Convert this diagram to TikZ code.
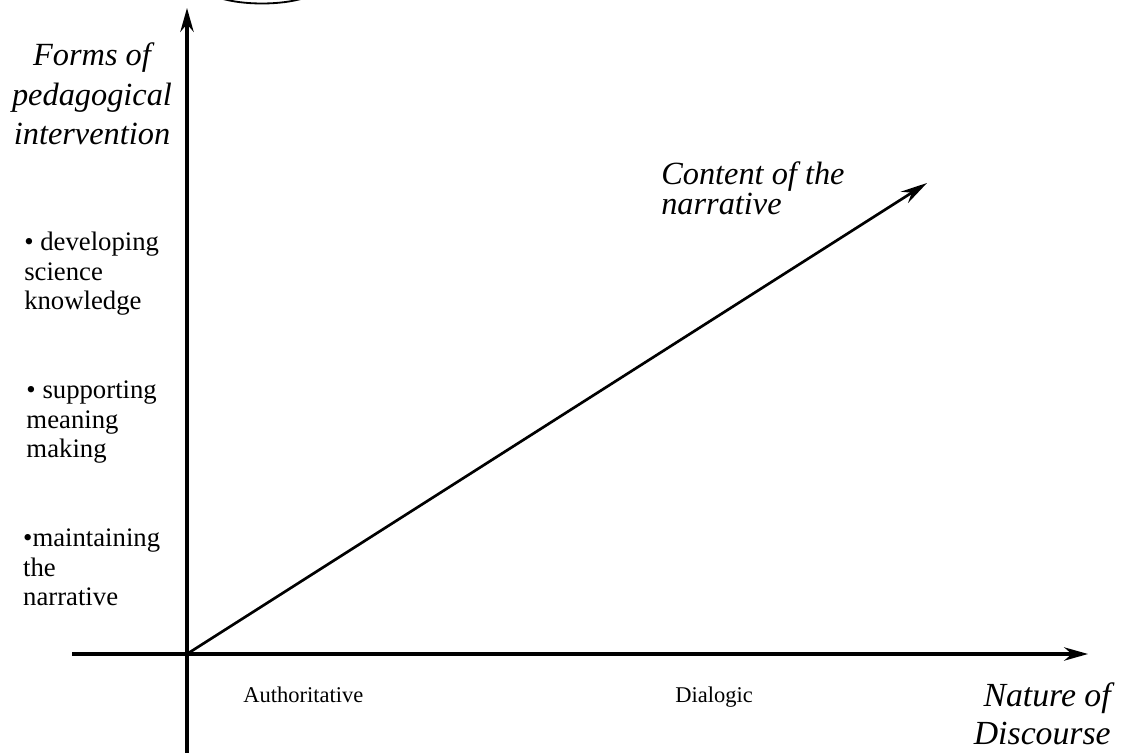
\documentclass[tikz,border=0pt]{standalone}
\usepackage{fontspec}
\setmainfont{Liberation Serif}
\usetikzlibrary{arrows.meta, positioning}

\begin{document}
\begin{tikzpicture}[
    x=0.025cm, y=-0.025cm,
    node distance=1.62cm,
    axis/.style={line width=2.2pt, -{Stealth[length=17pt, width=9.5pt]}},
    trend/.style={line width=1.9pt, -{Stealth[length=19pt, width=9.5pt]}},
    title/.style={font=\fontsize{23}{28.4}\selectfont\itshape, inner sep=0pt},
    item/.style={font=\fontsize{19}{21}\selectfont, align=left, anchor=north west, inner sep=0pt},
    pole/.style={font=\fontsize{16}{21}\selectfont, anchor=base west, inner sep=0pt}
]
\useasboundingbox (0,0) rectangle (1122,753);
% piece of the shape above
\begin{scope}
\clip (0,0) rectangle (1122,753);
\draw[line width=1.3pt] (262,-14) ellipse [x radius=58, y radius=17.5];
\end{scope}
% axes
\coordinate (o) at (187,654);
\coordinate (ytop) at (187,8);
\coordinate (ybot) at (187,753);
\coordinate (xleft) at (72,654);
\coordinate (xright) at (1088,654);
\coordinate (dtip) at (927,183);
\draw[axis] (ybot) -- (ytop);
\draw[axis] (xleft) -- (xright);
\draw[trend] (o) -- (dtip);
% labels
\node[title, align=center, anchor=base] (forms) at (92,145) {Forms of\\pedagogical\\intervention};
\node[title, align=left, anchor=base west, font=\fontsize{23}{22}\selectfont\itshape] (content) at (661,215) {Content of the\\narrative};
\node[title, align=right, anchor=base east, font=\fontsize{24}{27}\selectfont\itshape] (nature) at (1111,744) {Nature of\\Discourse};
\node[item] (develop) at (24,232) {• developing\\science\\knowledge};
\node[item, below=of develop] (support) {• supporting\\meaning\\making};
\node[item, below=of support] (maintain) {•maintaining\\the\\narrative};
\node[pole] (auth) at (243,702) {Authoritative};
\node[pole] (dial) at (675,702) {Dialogic};
\end{tikzpicture}
\end{document}
